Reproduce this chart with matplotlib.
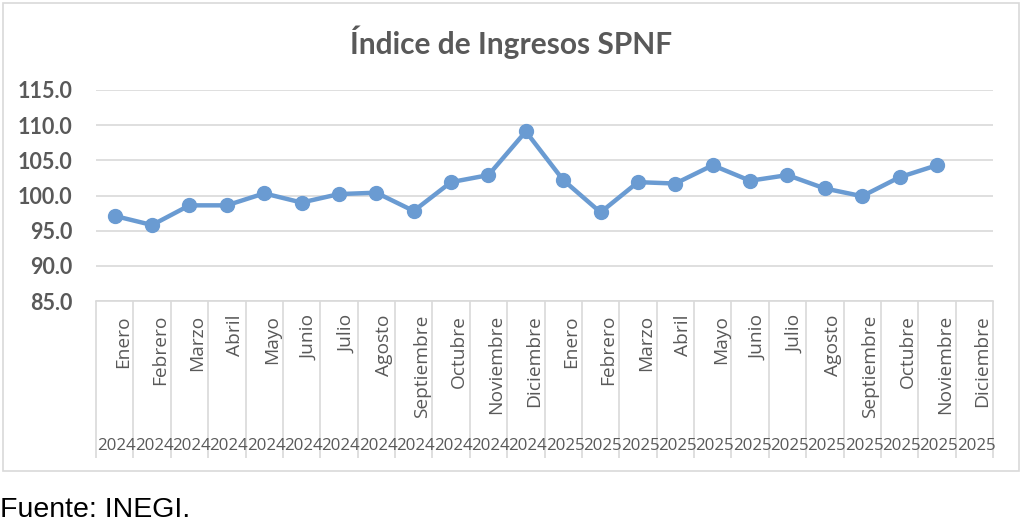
import matplotlib
matplotlib.use("Agg")
import matplotlib.pyplot as plt
import matplotlib.transforms as mtransforms
from matplotlib.patches import Rectangle

months = ["Enero", "Febrero", "Marzo", "Abril", "Mayo", "Junio", "Julio",
          "Agosto", "Septiembre", "Octubre", "Noviembre", "Diciembre"]
years = ["2024"] * 12 + ["2025"] * 12
month_labels = months + months
values = [97.1, 95.8, 98.6, 98.6, 100.3, 99.0, 100.2, 100.4, 97.8, 101.9, 102.9, 109.1,
          102.2, 97.6, 101.9, 101.7, 104.3, 102.1, 102.9, 101.0, 99.9, 102.6, 104.3, None]
yticks = [85.0, 90.0, 95.0, 100.0, 105.0, 110.0, 115.0]

GRAY = "#595959"
GRID = "#D9D9D9"
LINE = "#6A9BD2"

W, H = 1024, 532
fig = plt.figure(figsize=(W / 100, H / 100), dpi=100)
fig.patch.set_facecolor("white")

# outer chart border
fig.add_artist(Rectangle((3 / W, 1 - 471 / H), (1019 - 3) / W, (471 - 3) / H,
                         transform=fig.transFigure, fill=False, edgecolor=GRID, lw=1.2))

left, right, top, bottom = 96, 993, 90, 301
ax = fig.add_axes([left / W, 1 - bottom / H, (right - left) / W, (bottom - top) / H])

xs = [i for i, v in enumerate(values) if v is not None]
ys = [v for v in values if v is not None]
ax.plot(xs, ys, color=LINE, lw=3.2, marker="o", markersize=10, zorder=3)

ax.set_xlim(-0.5, len(values) - 0.5)
ax.set_ylim(85, 115)
ax.set_yticks(yticks)
ax.set_yticklabels([f"{t:.1f}" for t in yticks], fontfamily="Lato", fontweight="bold",
                   fontsize=15.5, color=GRAY)
ax.tick_params(axis="y", length=0, pad=17)
ax.grid(axis="y", color=GRID, lw=1.2)
ax.set_axisbelow(True)
for s in ["top", "right", "left"]:
    ax.spines[s].set_visible(False)
ax.spines["bottom"].set_color(GRID)
ax.spines["bottom"].set_linewidth(1.2)

# category separators as long minor ticks
ax.set_xticks([i - 0.5 for i in range(len(values) + 1)], minor=True)
ax.set_xticks([])
ax.tick_params(axis="x", which="minor", length=157 * 0.72, color=GRID, width=1.2)

trans = mtransforms.blended_transform_factory(ax.transData, ax.transAxes)
px = (bottom - top)
off_m = mtransforms.ScaledTranslation(8 / 100, 0, fig.dpi_scale_trans)
off_y = mtransforms.ScaledTranslation(2 / 100, 0, fig.dpi_scale_trans)
for i, (m, y) in enumerate(zip(month_labels, years)):
    ax.text(i, -(315 - bottom) / px, m, transform=trans + off_m, rotation=90,
            ha="center", va="top", fontsize=13.8, color=GRAY, fontfamily="Open Sans")
    ax.text(i, -(446 - bottom) / px, y, transform=trans + off_y,
            ha="center", va="center", fontsize=12.2, color=GRAY, fontfamily="Open Sans")

fig.text(511 / W, 1 - 42 / H, "Índice de Ingresos SPNF", ha="center", va="center",
         fontsize=21.5, fontweight="bold", color=GRAY, fontfamily="Lato")
fig.text(0 / W, 1 - 510 / H, "Fuente: INEGI.", ha="left", va="center",
         fontsize=20.5, color="black", fontfamily="Liberation Sans")

fig.savefig("out.png", dpi=100, facecolor="white")
